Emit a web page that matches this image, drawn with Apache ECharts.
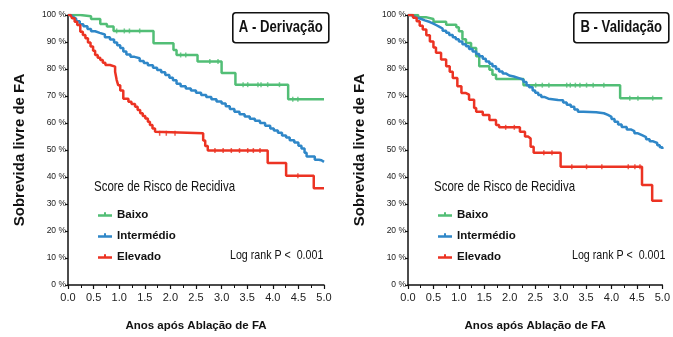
<!DOCTYPE html>
<html>
<head>
<meta charset="utf-8">
<script src="https://cdn.jsdelivr.net/npm/echarts@6/dist/echarts.min.js"></script>
<style>
html,body{margin:0;padding:0;background:#fff;}
#chart{width:673px;height:337px;}
</style>
</head>
<body>
<div id="chart"></div>
<script>
// ---------- data (years, % survival) ----------
var seriesNames = ['Baixo', 'Intermédio', 'Elevado'];
var xTicks = [0, 0.5, 1, 1.5, 2, 2.5, 3, 3.5, 4, 4.5, 5];
var panelTitles = ['A - Derivação', 'B - Validação'];

// Panel A - Derivação
var derivBaixo = [[0,100],[0.24,99.5],[0.45,98.5],[0.63,96.7],[0.76,95.7],[0.89,94.1],[1.67,89.5],[2.06,87],[2.12,85.2],[2.53,82.8],[3.0,78.5],[3.27,74.2],[4.3,68.8],[5.0,68.8]];
var derivInter = [[0,100],[0.05,99.3],[0.1,98.6],[0.16,97.7],[0.23,96.6],[0.3,95.8],[0.38,94.8],[0.45,94],[0.53,93.4],[0.62,92.8],[0.72,91.8],[0.82,90.9],[0.9,89.8],[0.96,88.8],[1.02,87.8],[1.08,86.5],[1.14,85.4],[1.22,84.5],[1.3,84],[1.4,83],[1.48,82.2],[1.56,81.4],[1.66,80.5],[1.74,79.6],[1.82,78.8],[1.9,77.8],[1.98,76.8],[2.05,75.8],[2.12,74.5],[2.2,73.6],[2.3,72.8],[2.4,72],[2.5,71.2],[2.6,70.4],[2.7,69.6],[2.8,68.8],[2.9,68],[3.0,67.2],[3.08,66.2],[3.16,65.2],[3.25,64.2],[3.35,63.2],[3.45,62.4],[3.55,61.6],[3.65,60.8],[3.75,60],[3.85,59],[3.95,58],[4.02,57.2],[4.1,56.4],[4.18,55.4],[4.26,54.6],[4.33,53.6],[4.42,52.8],[4.5,51.6],[4.56,50.6],[4.62,49],[4.66,47.6],[4.76,47.6],[4.82,46.4],[4.9,46.2],[4.95,45.6],[5.0,45.6]];
var derivElev = [[0,100],[0.05,99.3],[0.08,98.8],[0.13,97.5],[0.18,96.3],[0.24,93.8],[0.29,92.6],[0.34,91.4],[0.39,89.8],[0.44,88.3],[0.49,86.8],[0.53,85.2],[0.58,84.2],[0.63,83.3],[0.68,82.3],[0.73,81.5],[0.82,80.9],[0.92,79],[0.95,76],[0.98,74],[1.02,72],[1.08,69],[1.18,67.9],[1.24,67],[1.31,66],[1.36,64.8],[1.41,63.6],[1.46,62.6],[1.51,61.7],[1.56,60.5],[1.6,59.3],[1.65,58],[1.7,56.8],[1.73,56.2],[2.64,53.5],[2.68,51.5],[2.73,49.8],[3.9,45.2],[4.26,40.5],[4.8,35.8],[5.0,35.8]];
var derivBaixoCens = [[0.95,94.1],[1.1,94.1],[1.2,94.1],[1.4,94.1],[2.2,85.2],[2.3,85.2],[2.77,82.8],[2.93,82.8],[3.42,74.2],[3.51,74.2],[3.71,74.2],[3.77,74.2],[3.9,74.2],[4.13,74.2],[4.39,68.8],[4.49,68.8]];
var derivElevCens = [[1.79,56.2],[1.92,56.2],[2.09,56.2],[2.87,49.8],[3.03,49.8],[3.19,49.8],[3.35,49.8],[3.51,49.8],[3.62,49.8],[3.75,49.8],[4.49,40.5]];

// Panel B - Validação
var validBaixo = [[0,100],[0.2,99.2],[0.35,98.5],[0.5,97.5],[0.75,96.4],[0.95,95.5],[1.0,94],[1.07,91],[1.14,89.6],[1.24,87.8],[1.34,84.7],[1.4,81],[1.6,79.7],[1.66,77.9],[1.73,76.3],[2.27,74],[4.17,69.2],[5.0,69.2]];
var validInter = [[0,100],[0.06,99.5],[0.12,99],[0.17,98.6],[0.25,98],[0.33,97.4],[0.43,96.8],[0.5,96.2],[0.56,95.6],[0.62,95],[0.68,94.2],[0.75,93.4],[0.81,92.6],[0.88,91.8],[0.94,91],[1.0,90.2],[1.07,89.2],[1.14,88.4],[1.2,87.4],[1.27,86.5],[1.34,85.6],[1.4,84.7],[1.47,83.8],[1.53,82.8],[1.6,81.9],[1.66,81],[1.73,80],[1.79,79.1],[1.86,78.3],[1.93,77.6],[1.99,77.2],[2.08,76.6],[2.18,76],[2.27,75.2],[2.33,74],[2.38,73.2],[2.45,72],[2.5,71.2],[2.56,70.4],[2.62,69.6],[2.69,69],[2.76,68.5],[2.95,68.4],[3.05,67.6],[3.12,66.8],[3.2,66],[3.27,65],[3.34,64.2],[3.45,64],[3.7,63.6],[3.85,63],[3.93,62.3],[4.0,61.5],[4.06,60.5],[4.13,59.4],[4.2,58.5],[4.3,57.6],[4.38,57],[4.45,56.2],[4.52,55.5],[4.6,54.8],[4.68,54],[4.75,53.2],[4.82,52.6],[4.9,51.8],[4.95,51],[5.0,50.4]];
var validElev = [[0,100],[0.1,99],[0.17,97.7],[0.23,96],[0.29,94.6],[0.36,92.5],[0.43,90.2],[0.5,88],[0.55,86],[0.65,83.5],[0.75,81],[0.82,79],[0.88,76.7],[0.97,73.6],[1.05,71.1],[1.14,70.5],[1.2,68.6],[1.3,65.6],[1.34,64.2],[1.47,63],[1.6,61.1],[1.73,59.3],[1.79,58.4],[2.2,56.8],[2.3,55],[2.36,54.3],[2.41,51.2],[2.47,49],[3.0,43.8],[4.6,37],[4.8,31.2],[5.0,31.2]];
var validBaixoCens = [[2.51,74],[2.64,74],[2.77,74],[3.12,74],[3.19,74],[3.29,74],[3.38,74],[3.51,74],[3.64,74],[3.85,74],[4.36,69.2],[4.52,69.2],[4.81,69.2]];
var validElevCens = [[1.92,58.4],[2.09,58.4],[2.67,49],[2.83,49],[3.22,43.8],[3.51,43.8],[3.81,43.8],[4.33,43.8],[4.46,43.8],[4.56,43.8]];

// ---------- styling ----------
var colors = {'Baixo':'#52be76','Intermédio':'#2f87c8','Elevado':'#ec3323'};
var SANS = "'Liberation Sans',Arial,sans-serif";
var NARROW_SCALE = 0.82;

function xAxisCfg(idx){
  return {
    type:'value', gridIndex:idx, min:0, max:5, interval:0.5,
    name:'Anos após Ablação de FA', nameLocation:'middle', nameGap:35,
    nameTextStyle:{fontFamily:SANS, fontWeight:'bold', fontSize:11.5, color:'#111'},
    axisLine:{show:true, onZero:false, lineStyle:{color:'#111', width:1.5}},
    axisTick:{show:true, length:4, lineStyle:{color:'#111', width:1.2}},
    minorTick:{show:true, splitNumber:2, length:3, lineStyle:{color:'#111', width:1}},
    axisLabel:{margin:7, fontFamily:SANS, fontSize:11, color:'#222',
      formatter:function(v){return v.toFixed(1);}},
    splitLine:{show:false}
  };
}
function yAxisCfg(idx){
  return {
    type:'value', gridIndex:idx, min:0, max:100, interval:10,
    name:'Sobrevida livre de FA', nameLocation:'middle', nameGap:41, nameRotate:90,
    nameTextStyle:{fontFamily:SANS, fontWeight:'bold', fontSize:15, color:'#111'},
    axisLine:{show:true, onZero:false, lineStyle:{color:'#111', width:1.5}},
    axisTick:{show:true, length:3, lineStyle:{color:'#111', width:1.2}},
    axisLabel:{margin:2, fontFamily:SANS, fontSize:8.5, color:'#222', formatter:'{value} %'},
    splitLine:{show:false}
  };
}
function lineSeries(name, data, idx){
  return {
    type:'line', name:name, xAxisIndex:idx, yAxisIndex:idx, data:data,
    step:'end', showSymbol:false, symbol:'none', animation:false,
    lineStyle:{color:colors[name], width:2.5}, itemStyle:{color:colors[name]}
  };
}
function censSeries(name, data, idx){
  return {
    type:'scatter', name:name, xAxisIndex:idx, yAxisIndex:idx, data:data,
    symbol:'rect', symbolSize:[1.5,5], animation:false, silent:true,
    itemStyle:{color:colors[name]}, z:3
  };
}
var legendIcon = 'path://M0,4L14,4L14,6.5L0,6.5Z M6,2L8,2L8,4L6,4Z';
function legendCfg(left){
  return {
    left:left, top:202, orient:'vertical', itemGap:6, itemWidth:14, itemHeight:6,
    icon:legendIcon, data:seriesNames, selectedMode:false,
    textStyle:{fontFamily:SANS, fontWeight:'bold', fontSize:11.5, color:'#111', lineHeight:15}
  };
}
function boxTitle(left, text, w){
  return {
    type:'group', left:left, top:12,
    children:[
      {type:'rect', shape:{x:0,y:0,width:w,height:30,r:3}, style:{fill:'#fff', stroke:'#111', lineWidth:1.6}},
      {type:'text', x:w/2, y:15, scaleX:NARROW_SCALE, style:{text:text, fill:'#111', font:'bold 16px '+SANS, textAlign:'center', textVerticalAlign:'middle'}}
    ]
  };
}
function plainText(x, y, text, font){
  return {type:'text', x:x, y:y, scaleX:NARROW_SCALE, style:{text:text, fill:'#111', font:font, textVerticalAlign:'middle'}};
}

var chart = echarts.init(document.getElementById('chart'), null, {renderer:'canvas'});
chart.setOption({
  backgroundColor:'#fff',
  animation:false,
  grid:[
    {left:68, top:15, width:256, height:270},
    {left:408, top:15, width:257, height:270}
  ],
  xAxis:[xAxisCfg(0), xAxisCfg(1)],
  yAxis:[yAxisCfg(0), yAxisCfg(1)],
  legend:[legendCfg(93), legendCfg(433)],
  series:[
    lineSeries('Baixo', derivBaixo, 0),
    lineSeries('Intermédio', derivInter, 0),
    lineSeries('Elevado', derivElev, 0),
    censSeries('Baixo', derivBaixoCens, 0),
    censSeries('Elevado', derivElevCens, 0),
    lineSeries('Baixo', validBaixo, 1),
    lineSeries('Intermédio', validInter, 1),
    lineSeries('Elevado', validElev, 1),
    censSeries('Baixo', validBaixoCens, 1),
    censSeries('Elevado', validElevCens, 1)
  ],
  graphic:[
    boxTitle(232, panelTitles[0], 96),
    boxTitle(573, panelTitles[1], 95),
    plainText(94, 187, 'Score de Risco de Recidiva', '14px '+SANS),
    plainText(434, 187, 'Score de Risco de Recidiva', '14px '+SANS),
    plainText(230, 255, 'Log rank P <  0.001', '13px '+SANS),
    plainText(572, 255, 'Log rank P <  0.001', '13px '+SANS)
  ]
});
</script>
</body>
</html>
